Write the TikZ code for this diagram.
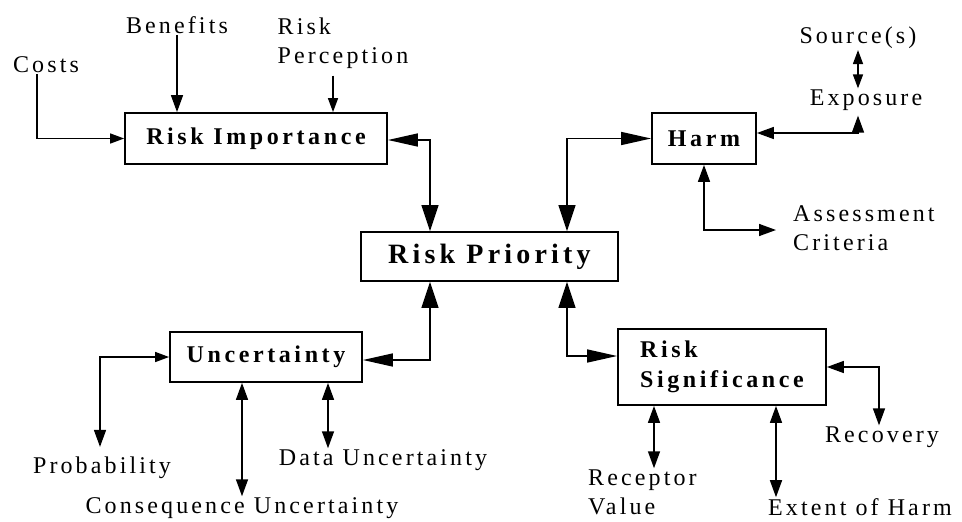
\documentclass[tikz,border=0pt]{standalone}
\usepackage{fontspec}
\usetikzlibrary{arrows.meta}
\newfontfamily\diagfont{Liberation Serif}[LetterSpace=15]
\newfontfamily\rotfont{Liberation Serif}[LetterSpace=13]

\begin{document}
\begin{tikzpicture}[
    x=1pt, y=-1pt,
    % Caixas principais
    caixa/.style={
        draw, line width=1.8pt, fill=white, inner sep=0pt,
        font=\diagfont\fontsize{24}{30}\selectfont\bfseries,
        align=center
    },
    % Textos soltos
    rotulo/.style={
        inner sep=1pt, align=left,
        font=\rotfont\fontsize{24}{29}\selectfont
    },
    linha/.style={draw, line width=1.5pt},
    tipg/.tip={Triangle[length=26pt,width=17pt]},
    tipl/.tip={Triangle[length=30pt,width=13pt]},
    tipm/.tip={Triangle[length=17pt,width=12pt]},
    tipp/.tip={Triangle[length=14pt,width=10pt]}
]
\useasboundingbox (0,0) rectangle (962,522);

% ---- CAIXAS ----
\node[caixa, minimum width=262pt, minimum height=51pt] (imp)  at (256,138.5) {Risk Importance};
\node[caixa, minimum width=104pt, minimum height=51pt] (harm) at (704,138.5) {Harm};
\node[caixa, font=\diagfont\fontsize{28}{34}\selectfont\bfseries,
      minimum width=257pt, minimum height=49pt] (prio) at (489.5,256.5) {Risk Priority};
\node[caixa, minimum width=192pt, minimum height=50pt] (unc)  at (266,357) {Uncertainty};
\node[caixa, align=left, minimum width=208pt, minimum height=76pt] (sig) at (722,367) {Risk\\Significance};

% ---- ROTULOS ----
\node[rotulo] (costs)  at (46,65)   {Costs};
\node[rotulo] (ben)    at (177,25)  {Benefits};
\node[rotulo] (perc)   at (343,43)  {Risk\\Perception};
\node[rotulo] (src)    at (858,38)  {Source(s)};
\node[rotulo] (expo)   at (866,100) {Exposure};
\node[rotulo, anchor=west] (assess) at (792,228) {Assessment\\Criteria};
\node[rotulo] (prob)   at (102,468) {Probability};
\node[rotulo] (conseq) at (242,508) {Consequence Uncertainty};
\node[rotulo] (data)   at (383,460) {Data Uncertainty};
\node[rotulo] (recov)  at (882,437) {Recovery};
\node[rotulo, anchor=west] (recept) at (587,492) {Receptor\\Value};
\node[rotulo] (extent) at (860,507) {Extent of Harm};

% ---- ENTRADAS DE RISK IMPORTANCE ----
\draw[linha, -tipp] ([xshift=-9pt]costs.south) |- (imp.west);
\draw[linha, -tipm] (ben.south) -- (ben.south |- imp.north);
\draw[linha, -tipp] ([xshift=-10pt, yshift=-6pt]perc.south) -- ([xshift=-10pt]perc.south |- imp.north);

% ---- LIGACOES COM RISK PRIORITY ----
\coordinate (p_no) at ([xshift=-59.5pt]prio.north);
\coordinate (p_ne) at ([xshift=77.5pt]prio.north);
\coordinate (p_so) at ([xshift=-59.5pt]prio.south);
\coordinate (p_se) at ([xshift=77.5pt]prio.south);

\draw[linha, tipl-tipg] ([yshift=-1.5pt]imp.east) -| (p_no);
\draw[linha, tipl-tipg] (harm.west) -| (p_ne);
\draw[linha, tipl-tipg] ([yshift=-3pt]unc.east) -| (p_so);
\draw[linha, tipl-tipg] ([yshift=11pt]sig.west) -| (p_se);

% ---- HARM ----
\draw[linha, tipm-tipm, shorten >=4pt] ([yshift=5.5pt]harm.east) -| ([xshift=-8pt]expo.south);
\draw[linha, tipp-tipp] (src.south) -- (src.south |- expo.north);
\draw[linha, tipm-tipm] (harm.south) |- ([xshift=-16pt, yshift=-2pt]assess.west);

% ---- UNCERTAINTY ----
\draw[linha, tipp-tipm, shorten >=9pt] (unc.west) -| ([xshift=-2pt]prob.north);
\draw[linha, tipm-tipm] ([xshift=-24pt]unc.south) -- ([xshift=-24pt]unc.south |- conseq.north);
\draw[linha, tipm-tipm] ([xshift=62pt]unc.south) -- ([xshift=62pt]unc.south |- data.north);

% ---- RISK SIGNIFICANCE ----
\draw[linha, tipm-tipm] (sig.east) -| ([xshift=-3pt]recov.north);
\draw[linha, tipm-tipm] ([xshift=-68pt]sig.south) -- ([xshift=-68pt]sig.south |- recept.north);
\draw[linha, tipm-tipm] ([xshift=54pt]sig.south) -- ([xshift=54pt]sig.south |- extent.north);

\end{tikzpicture}
\end{document}
